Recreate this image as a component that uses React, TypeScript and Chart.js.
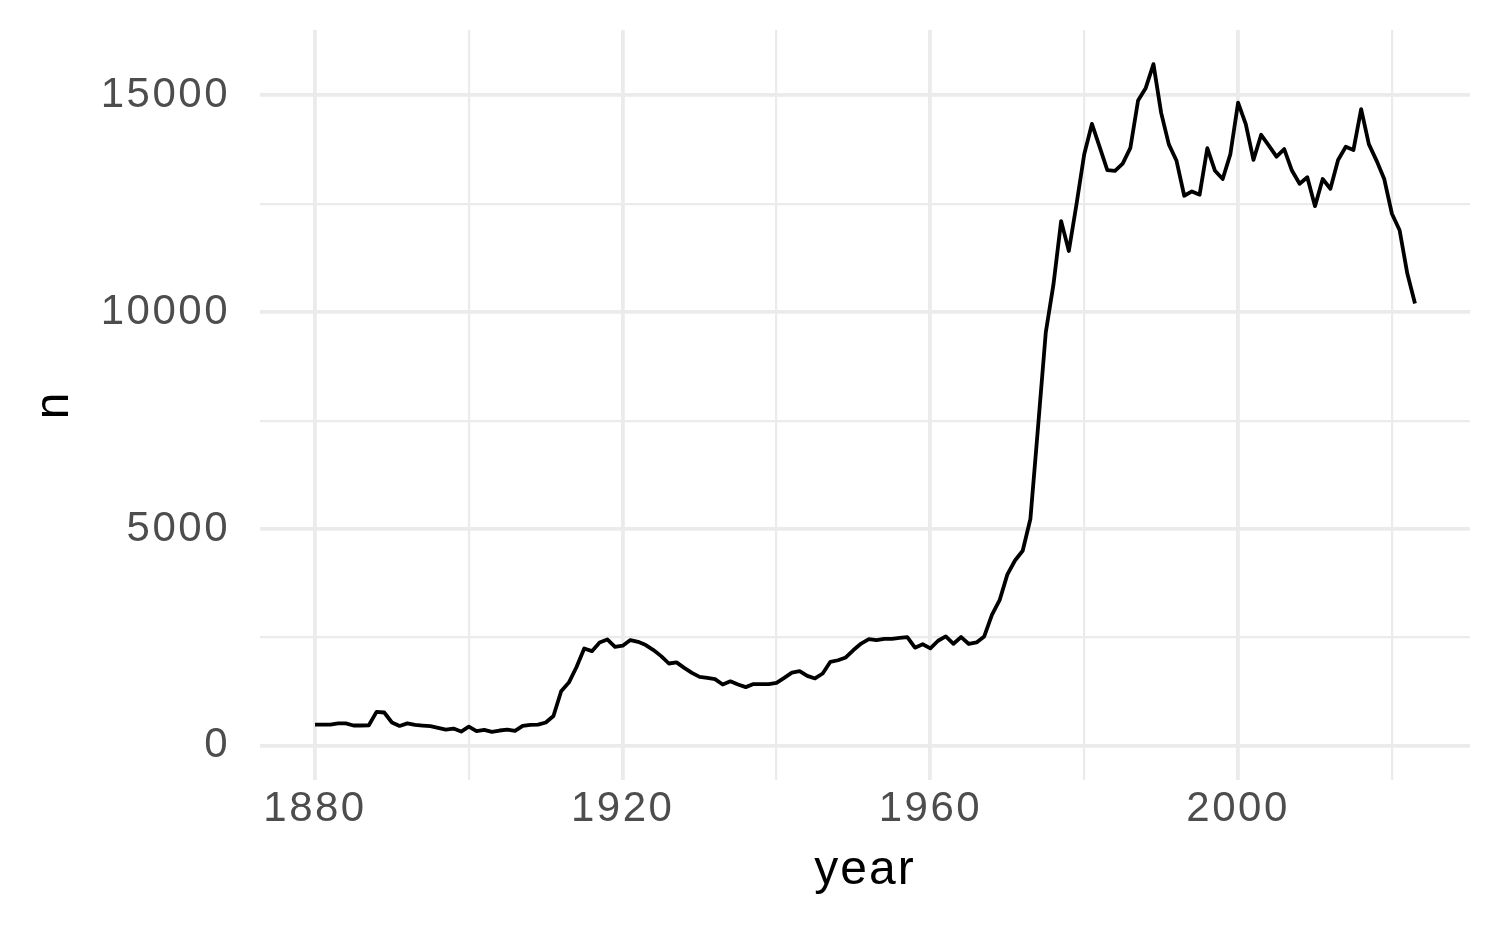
import React, { useEffect, useRef } from "react";
import { Chart, registerables } from "chart.js";

Chart.register(...registerables);

const startYear = 1880;
const counts: number[] = [
  492, 490, 490, 520, 520, 470, 470, 475, 785, 770,
  540, 460, 520, 485, 470, 455, 415, 375, 400, 330,
  445, 340, 370, 325, 355, 375, 345, 460, 485, 490,
  540, 690, 1260, 1460, 1820, 2245, 2185, 2385, 2455, 2285,
  2310, 2440, 2400, 2325, 2210, 2070, 1900, 1925, 1800, 1685,
  1590, 1570, 1540, 1415, 1490, 1415, 1355, 1425, 1425, 1425,
  1455, 1570, 1690, 1725, 1615, 1555, 1670, 1940, 1975, 2040,
  2210, 2360, 2460, 2440, 2470, 2470, 2490, 2510, 2265, 2345,
  2250, 2425, 2525, 2355, 2510, 2350, 2385, 2525, 3020, 3360,
  3950, 4275, 4500, 5230, 7360, 9530, 10640, 12100, 11410, 12495,
  13640, 14340, 13810, 13275, 13260, 13425, 13790, 14880, 15170, 15720,
  14595, 13870, 13490, 12685, 12785, 12710, 13780, 13260, 13070, 13645,
  14830, 14335, 13510, 14090, 13840, 13585, 13760, 13265, 12960, 13110,
  12445, 13070, 12845, 13510, 13815, 13740, 14680, 13875, 13495, 13070,
  12270, 11890, 10890, 10200,
];
const years: number[] = counts.map((_, i) => startYear + i);

const xTicks: number[] = [1880, 1900, 1920, 1940, 1960, 1980, 2000, 2020];
const xLabelTicks: number[] = [1880, 1920, 1960, 2000];
const yTicks: number[] = [0, 2500, 5000, 7500, 10000, 12500, 15000];
const yLabelTicks: number[] = [0, 5000, 10000, 15000];

const xTitle = "year";
const yTitle = "n";

const FONT = "'Liberation Sans', Arial, sans-serif";
const GRID = "#EBEBEB";

export default function App() {
  const ref = useRef<HTMLCanvasElement | null>(null);

  useEffect(() => {
    if (!ref.current) return;
    const xMin = years[0];
    const xMax = years[years.length - 1];
    const xPad = (xMax - xMin) * 0.05;
    const yMax = Math.max(...counts);
    const yPad = yMax * 0.05;

    const spacingPlugin = {
      id: "spacing",
      beforeDraw(chart: any) {
        chart.ctx.letterSpacing = "2.5px";
      },
      afterDraw(chart: any) {
        const ctx = chart.ctx;
        const area = chart.chartArea;
        ctx.save();
        ctx.letterSpacing = "2px";
        ctx.fillStyle = "#000000";
        ctx.font = `48px ${FONT}`;
        ctx.textAlign = "center";
        ctx.textBaseline = "alphabetic";
        ctx.fillText(xTitle, (area.left + area.right) / 2, 884);
        ctx.translate(68, (area.top + area.bottom) / 2);
        ctx.rotate(-Math.PI / 2);
        ctx.fillText(yTitle, 0, 0);
        ctx.restore();
        ctx.letterSpacing = "0px";
      },
    };

    const chart = new Chart(ref.current, {
      type: "line",
      data: {
        datasets: [
          {
            data: years.map((y, i) => ({ x: y, y: counts[i] })),
            borderColor: "#000000",
            borderWidth: 3.8,
            pointRadius: 0,
            tension: 0,
            fill: false,
            borderJoinStyle: "round",
          },
        ],
      },
      options: {
        animation: false,
        responsive: false,
        layout: { padding: { top: 30, right: 30, left: 0, bottom: 0 } },
        plugins: {
          legend: { display: false },
          tooltip: { enabled: false },
        },
        scales: {
          x: {
            type: "linear",
            min: xMin - xPad,
            max: xMax + xPad,
            afterBuildTicks: (s: any) => {
              s.ticks = xTicks.map((v) => ({ value: v }));
            },
            afterFit: (s: any) => {
              s.height = 147;
              s.paddingLeft = 0;
              s.paddingRight = 0;
              s.paddingTop = 0;
              s.paddingBottom = 0;
            },
            grid: {
              color: GRID,
              lineWidth: (c: any) =>
                xLabelTicks.includes(c.tick?.value) ? 3.8 : 2.2,
              drawTicks: false,
            },
            border: { display: false },
            ticks: {
              autoSkip: false,
              maxRotation: 0,
              padding: 4,
              color: "#4D4D4D",
              font: { family: FONT, size: 42 },
              callback: (v: any) =>
                xLabelTicks.includes(Number(v)) ? String(v) : "",
            },
          },
          y: {
            type: "linear",
            min: -yPad,
            max: yMax + yPad,
            afterBuildTicks: (s: any) => {
              s.ticks = yTicks.map((v) => ({ value: v }));
            },
            afterFit: (s: any) => {
              s.width = 260;
              s.paddingLeft = 0;
              s.paddingRight = 0;
              s.paddingTop = 0;
              s.paddingBottom = 0;
            },
            grid: {
              color: GRID,
              lineWidth: (c: any) =>
                yLabelTicks.includes(c.tick?.value) ? 3.8 : 2.2,
              drawTicks: false,
            },
            border: { display: false },
            ticks: {
              autoSkip: false,
              padding: 30,
              color: "#4D4D4D",
              font: { family: FONT, size: 42 },
              callback: (v: any) =>
                yLabelTicks.includes(Number(v)) ? String(v) : "",
            },
          },
        },
      },
      plugins: [spacingPlugin],
    } as any);

    return () => chart.destroy();
  }, []);

  return (
    <div style={{ position: "fixed", left: 0, top: 0, width: 1500, height: 927, background: "#fff" }}>
      <canvas ref={ref} width={1500} height={927} style={{ width: 1500, height: 927 }} />
    </div>
  );
}
